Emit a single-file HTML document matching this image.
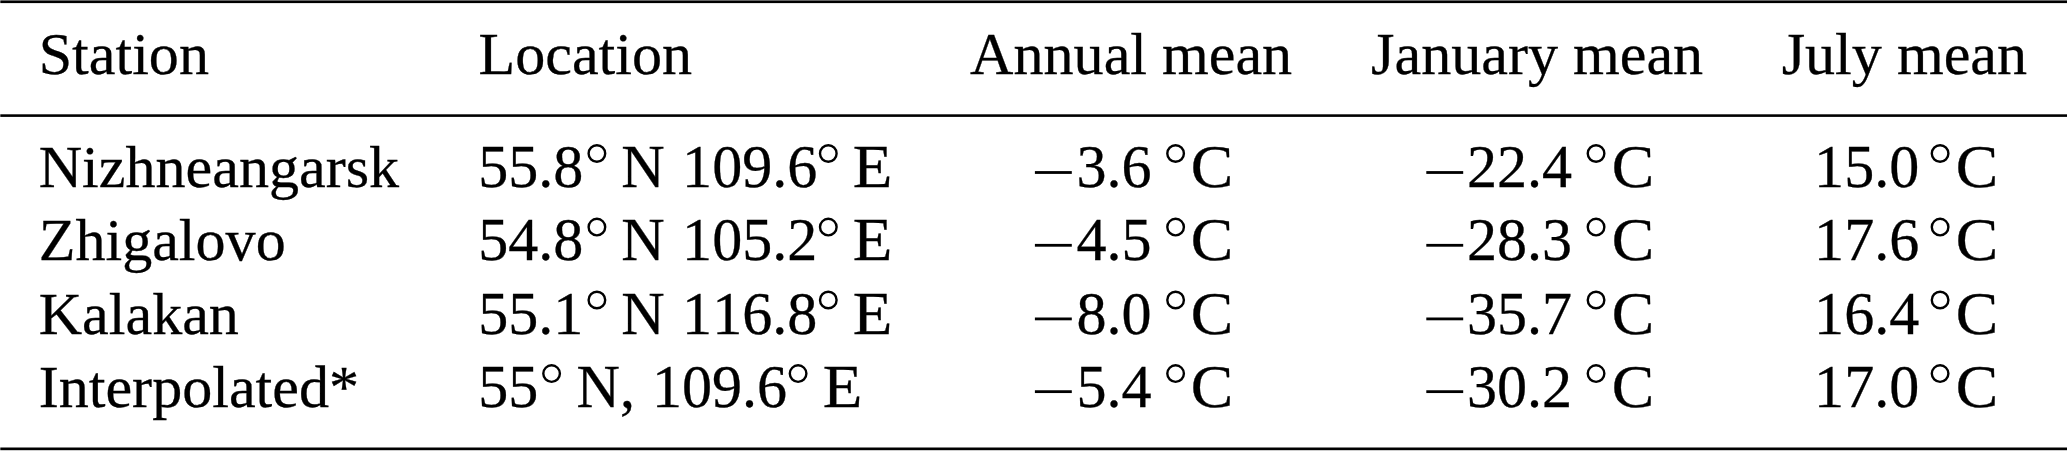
<!DOCTYPE html>
<html><head><meta charset="utf-8"><title>Table</title>
<style>
html,body{margin:0;padding:0;background:#fff;width:2067px;height:451px;overflow:hidden}
.t{position:absolute;font-family:"Liberation Serif",serif;font-size:60.1px;line-height:60px;white-space:pre;color:#000;font-kerning:none;-webkit-text-stroke:0.3px #000;font-feature-settings:"kern" 0,"liga" 0;transform-origin:0 50px}
.w{transform:scaleY(1.0)}
.n{transform:scaleY(1.035)}
.c{transform:scale(1.06,1.035);transform-origin:2.5px 50px}
.e{transform:scale(1.08,1.035);transform-origin:1.7px 50px}
svg{position:absolute;left:0;top:0}
</style></head><body>
<div class="t w" style="left:38.70px;top:24.00px">Station</div>
<div class="t w" style="left:478.50px;top:24.00px">Location</div>
<div class="t w" style="left:970.10px;top:24.00px">Annual mean</div>
<div class="t w" style="left:1371.10px;top:24.00px">January mean</div>
<div class="t w" style="left:1781.70px;top:24.00px">July mean</div>
<div class="t w" style="left:38.70px;top:137.20px">Nizhneangarsk</div>
<div class="t n" style="left:478.20px;top:137.20px">55.8</div>
<div class="t n" style="left:621.20px;top:137.20px">N</div>
<div class="t n" style="left:682.10px;top:137.20px">109.6</div>
<div class="t e" style="left:853.30px;top:137.20px">E</div>
<div class="t n" style="left:1076.50px;top:137.20px">3.6</div>
<div class="t c" style="left:1191.00px;top:137.20px">C</div>
<div class="t n" style="left:1466.90px;top:137.20px">22.4</div>
<div class="t c" style="left:1612.10px;top:137.20px">C</div>
<div class="t n" style="left:1814.10px;top:137.20px">15.0</div>
<div class="t c" style="left:1955.80px;top:137.20px">C</div>
<div class="t w" style="left:38.70px;top:210.00px">Zhigalovo</div>
<div class="t n" style="left:478.20px;top:210.00px">54.8</div>
<div class="t n" style="left:621.20px;top:210.00px">N</div>
<div class="t n" style="left:682.10px;top:210.00px">105.2</div>
<div class="t e" style="left:853.30px;top:210.00px">E</div>
<div class="t n" style="left:1076.50px;top:210.00px">4.5</div>
<div class="t c" style="left:1191.00px;top:210.00px">C</div>
<div class="t n" style="left:1466.90px;top:210.00px">28.3</div>
<div class="t c" style="left:1612.10px;top:210.00px">C</div>
<div class="t n" style="left:1814.10px;top:210.00px">17.6</div>
<div class="t c" style="left:1955.80px;top:210.00px">C</div>
<div class="t w" style="left:38.70px;top:283.70px">Kalakan</div>
<div class="t n" style="left:478.20px;top:283.70px">55.1</div>
<div class="t n" style="left:621.20px;top:283.70px">N</div>
<div class="t n" style="left:682.10px;top:283.70px">116.8</div>
<div class="t e" style="left:853.30px;top:283.70px">E</div>
<div class="t n" style="left:1076.50px;top:283.70px">8.0</div>
<div class="t c" style="left:1191.00px;top:283.70px">C</div>
<div class="t n" style="left:1466.90px;top:283.70px">35.7</div>
<div class="t c" style="left:1612.10px;top:283.70px">C</div>
<div class="t n" style="left:1814.10px;top:283.70px">16.4</div>
<div class="t c" style="left:1955.80px;top:283.70px">C</div>
<div class="t w" style="left:38.70px;top:356.75px">Interpolated*</div>
<div class="t n" style="left:478.20px;top:356.75px">55</div>
<div class="t n" style="left:576.50px;top:356.75px">N,</div>
<div class="t n" style="left:651.90px;top:356.75px">109.6</div>
<div class="t e" style="left:823.30px;top:356.75px">E</div>
<div class="t n" style="left:1076.50px;top:356.75px">5.4</div>
<div class="t c" style="left:1191.00px;top:356.75px">C</div>
<div class="t n" style="left:1466.90px;top:356.75px">30.2</div>
<div class="t c" style="left:1612.10px;top:356.75px">C</div>
<div class="t n" style="left:1814.10px;top:356.75px">17.0</div>
<div class="t c" style="left:1955.80px;top:356.75px">C</div>
<svg width="2067" height="451" viewBox="0 0 2067 451">
<rect x="0.3" y="0.40" width="2067" height="2.70" fill="#000"/>
<rect x="0.3" y="114.30" width="2067" height="2.60" fill="#000"/>
<rect x="0.3" y="447.50" width="2067" height="2.70" fill="#000"/>
<rect x="1034.90" y="171.10" width="36.90" height="2.80" fill="#000"/>
<rect x="1426.30" y="171.10" width="36.90" height="2.80" fill="#000"/>
<rect x="1034.90" y="243.90" width="36.90" height="2.80" fill="#000"/>
<rect x="1426.30" y="243.90" width="36.90" height="2.80" fill="#000"/>
<rect x="1034.90" y="317.50" width="36.90" height="2.80" fill="#000"/>
<rect x="1426.30" y="317.50" width="36.90" height="2.80" fill="#000"/>
<rect x="1034.90" y="390.25" width="36.90" height="2.80" fill="#000"/>
<rect x="1426.30" y="390.25" width="36.90" height="2.80" fill="#000"/>
<circle cx="596.90" cy="153.50" r="8.3" fill="none" stroke="#000" stroke-width="2.4"/>
<circle cx="828.30" cy="153.50" r="8.3" fill="none" stroke="#000" stroke-width="2.4"/>
<circle cx="1175.60" cy="153.50" r="8.3" fill="none" stroke="#000" stroke-width="2.4"/>
<circle cx="1596.05" cy="153.50" r="8.3" fill="none" stroke="#000" stroke-width="2.4"/>
<circle cx="1940.10" cy="153.50" r="8.3" fill="none" stroke="#000" stroke-width="2.4"/>
<circle cx="596.90" cy="227.10" r="8.3" fill="none" stroke="#000" stroke-width="2.4"/>
<circle cx="828.30" cy="227.10" r="8.3" fill="none" stroke="#000" stroke-width="2.4"/>
<circle cx="1175.60" cy="227.10" r="8.3" fill="none" stroke="#000" stroke-width="2.4"/>
<circle cx="1596.05" cy="227.10" r="8.3" fill="none" stroke="#000" stroke-width="2.4"/>
<circle cx="1940.10" cy="227.10" r="8.3" fill="none" stroke="#000" stroke-width="2.4"/>
<circle cx="596.90" cy="300.00" r="8.3" fill="none" stroke="#000" stroke-width="2.4"/>
<circle cx="828.30" cy="300.00" r="8.3" fill="none" stroke="#000" stroke-width="2.4"/>
<circle cx="1175.60" cy="300.00" r="8.3" fill="none" stroke="#000" stroke-width="2.4"/>
<circle cx="1596.05" cy="300.00" r="8.3" fill="none" stroke="#000" stroke-width="2.4"/>
<circle cx="1940.10" cy="300.00" r="8.3" fill="none" stroke="#000" stroke-width="2.4"/>
<circle cx="551.60" cy="373.60" r="8.3" fill="none" stroke="#000" stroke-width="2.4"/>
<circle cx="798.10" cy="373.60" r="8.3" fill="none" stroke="#000" stroke-width="2.4"/>
<circle cx="1175.60" cy="373.60" r="8.3" fill="none" stroke="#000" stroke-width="2.4"/>
<circle cx="1596.05" cy="373.60" r="8.3" fill="none" stroke="#000" stroke-width="2.4"/>
<circle cx="1940.10" cy="373.60" r="8.3" fill="none" stroke="#000" stroke-width="2.4"/>
</svg>
</body></html>
